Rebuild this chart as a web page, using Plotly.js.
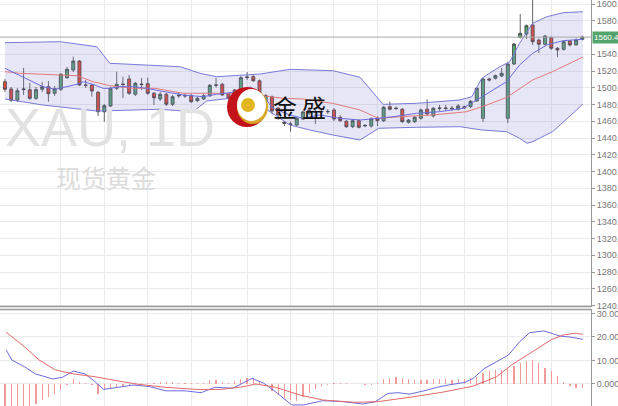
<!DOCTYPE html>
<html><head><meta charset="utf-8">
<script src="https://cdn.plot.ly/plotly-3.0.1.min.js"></script>
<style>html,body{margin:0;padding:0;background:#fff}#c{width:618px;height:406px}</style>
</head><body><div id="c"></div>
<script>
// ---- candle data (daily XAU) ----
const openP = [1507.2,1498.5,1485.0,1497.7,1497.7,1487.4,1498.2,1501.3,1493.4,1498.2,
1512.0,1521.2,1531.9,1503.3,1503.3,1494.6,1471.4,1478.2,1499.3,1504.5,
1510.5,1492.2,1504.5,1504.8,1493.4,1486.6,1492.2,1480.3,1490.3,1490.2,
1490.5,1484.5,1486.6,1490.5,1502.9,1504.1,1492.5,1489.0,1498.2,1512.2,
1513.2,1508.4,1483.0,1489.3,1475.8,1458.8,1456.4,1455.5,1462.7,1469.9,
1471.7,1471.1,1471.2,1473.4,1464.7,1460.0,1453.5,1460.7,1454.3,1454.3,
1463.9,1460.7,1477.4,1475.7,1474.3,1458.8,1459.5,1463.5,1474.3,1466.3,
1475.2,1475.2,1475.7,1474.3,1477.4,1477.4,1484.2,1463.5,1510.5,1511.3,
1514.0,1463.5,1528.4,1560.2,1564.2,1574.9,1557.0,1551.9,1559.8,1547.1,
1545.9,1555.8,1551.1,1557.9];
const closeP = [1498.2,1485.0,1496.5,1498.5,1487.4,1497.7,1501.3,1492.9,1498.9,1516.1,
1522.0,1531.9,1503.3,1502.9,1496.1,1471.4,1478.6,1499.3,1504.1,1503.8,
1493.4,1505.3,1503.8,1493.4,1488.1,1492.2,1480.3,1489.3,1490.9,1490.5,
1483.4,1487.4,1490.5,1502.9,1503.3,1491.4,1487.4,1497.3,1512.0,1512.8,
1508.4,1482.2,1490.8,1472.2,1467.5,1457.6,1456.7,1463.5,1471.1,1473.4,
1471.1,1471.7,1471.7,1462.7,1460.7,1453.5,1460.7,1452.8,1455.0,1463.0,
1460.7,1476.7,1474.3,1475.2,1459.5,1461.5,1464.7,1473.4,1468.7,1475.5,
1475.7,1475.7,1475.0,1478.2,1476.2,1483.8,1499.3,1510.5,1509.3,1514.4,
1517.3,1528.4,1552.2,1565.0,1574.1,1555.0,1551.9,1561.8,1547.1,1545.1,
1555.0,1551.1,1557.0,1560.46];
const highP = [1510.5,1500.9,1499.7,1523.6,1505.7,1500.9,1506.9,1508.1,1502.1,1517.6,
1524.8,1537.1,1533.1,1509.3,1504.5,1496.1,1480.6,1500.9,1519.2,1513.2,
1515.2,1506.9,1511.7,1512.0,1494.9,1494.9,1493.7,1491.4,1493.7,1492.5,
1492.5,1489.0,1492.5,1504.5,1511.7,1505.7,1493.7,1498.5,1514.0,1518.8,
1516.4,1509.9,1492.5,1490.8,1477.0,1460.3,1459.5,1465.1,1472.8,1477.0,
1473.4,1474.6,1474.6,1475.8,1467.5,1461.5,1462.7,1462.1,1456.7,1464.5,
1465.7,1478.2,1483.4,1477.6,1475.8,1462.7,1466.3,1475.2,1486.2,1477.0,
1479.4,1479.4,1478.2,1480.6,1478.8,1485.4,1500.9,1511.7,1512.2,1515.8,
1523.6,1529.6,1553.4,1588.1,1575.5,1611.0,1558.8,1563.0,1561.2,1548.7,
1556.4,1557.0,1558.8,1562.0];
const lowP = [1494.9,1483.0,1483.0,1491.4,1485.4,1485.4,1494.9,1483.4,1490.2,1496.1,
1510.5,1518.8,1502.1,1499.7,1489.3,1466.3,1459.5,1477.0,1497.3,1487.8,
1491.4,1490.2,1497.3,1491.4,1479.4,1484.2,1478.2,1478.2,1487.8,1487.8,
1481.8,1483.0,1485.4,1489.0,1500.3,1490.2,1485.4,1486.6,1496.7,1509.3,
1506.9,1480.6,1481.2,1468.7,1461.5,1454.3,1447.5,1454.3,1461.5,1467.5,
1456.7,1468.7,1468.7,1460.3,1459.1,1452.0,1452.0,1451.4,1453.1,1452.5,
1454.3,1459.1,1472.8,1473.4,1457.9,1457.3,1457.9,1462.1,1466.9,1464.5,
1472.2,1472.2,1472.8,1472.8,1474.6,1475.8,1483.0,1459.1,1507.5,1509.9,
1512.8,1457.9,1527.2,1558.8,1558.2,1551.1,1541.5,1550.5,1545.1,1536.4,
1544.5,1549.3,1550.5,1556.4];
const barIndex = openP.map((_, i) => i);

// ---- Bollinger band lines (x in bar index) ----
const upperX = [0,8.9,14.8,16.9,28.2,31.4,34.1,39.5,41.1,45.9,52.8,57.2,60.2,60.9,66.3,73.3,75.2,76.8,79.7,81.3,82.9,85.0,87.3,89.9,93.1];
const upperY = [1553.8,1555.0,1549.0,1529.2,1525.1,1517.3,1513.2,1515.2,1516.4,1522.0,1520.4,1512.5,1485.4,1480.2,1481.4,1485.4,1489.3,1511.3,1525.1,1531.1,1553.1,1577.0,1584.8,1589.6,1590.8];
const lowerX = [0,6.1,14.8,25.0,30.3,32.5,36.2,39.5,42.7,45.9,49.1,52.8,57.2,57.6,60.2,66.3,73.3,76.8,80.8,82.9,84.1,85.0,88.2,91.5,93.1];
const lowerY = [1486.6,1479.4,1472.2,1474.3,1471.4,1484.2,1487.4,1485.4,1471.4,1455.5,1449.6,1443.6,1437.6,1439.6,1451.6,1452.8,1453.5,1449.6,1447.5,1439.6,1433.7,1435.6,1447.5,1469.5,1480.6];
const midX = [0,2.4,6.1,11.6,14.2,16.9,20.6,24.2,28.7,34.1,39.5,44.8,48.0,52.8,57.2,60.2,63.6,68.9,74.4,77.6,80.8,85.0,88.2,93.1];
const midY = [1519.2,1517.3,1516.1,1514.4,1507.2,1502.5,1499.3,1499.3,1493.4,1493.4,1492.2,1487.4,1486.6,1481.4,1473.4,1463.5,1465.4,1467.5,1471.4,1479.4,1488.4,1509.3,1519.2,1536.7];
const fastX = [0,4.0,6.1,8.1,10.0,11.6,12.6,14.2,15.8,16.9,18.5,20.6,22.9,24.2,28.7,31.9,34.1,37.4,39.5,41.1,43.2,45.9,48.0,50.7,53.9,57.2,60.2,62.5,66.3,70.0,73.8,76.0,78.6,80.8,82.9,85.0,87.3,89.9,93.1];
const fastY = [1523.2,1509.3,1501.3,1498.2,1501.3,1504.1,1507.2,1504.1,1499.3,1499.3,1501.3,1501.3,1499.3,1497.3,1491.4,1489.3,1492.2,1495.3,1500.9,1494.2,1475.5,1467.5,1463.5,1467.5,1463.5,1461.5,1463.5,1465.4,1469.5,1471.4,1475.5,1485.4,1497.3,1507.2,1527.2,1541.1,1551.1,1556.2,1557.9];

// ---- MACD panel ----
const macdX = [0.2,1.1,3.1,4.9,6.1,7.7,9.3,11.0,12.9,14.5,15.9,18.2,20.8,23.3,25.9,29.0,31.6,33.8,36.7,39.8,41.7,43.6,46.2,48.1,51.2,54.4,57.6,59.7,61.7,63.3,65.2,67.5,69.6,71.5,74.1,75.4,77.3,79.2,81.1,82.9,84.5,86.8,88.1,89.4,91.2,93.1];
const macdY = [14.5,10.2,7.4,4.3,3.4,2.1,2.9,5.5,4.3,1.0,-2.3,-1.4,-0.4,-1.1,-2.9,-2.9,-3.7,-1.4,-1.8,2.4,0.3,-3.3,-8.9,-8.9,-7.1,-7.5,-8.5,-7.5,-4.0,-3.7,-4.3,-2.9,-1.4,-0.4,0.7,2.4,6.7,9.5,12.3,18.0,21.8,22.6,21.6,20.4,19.9,19.0];
const signalX = [0.2,3.1,5.5,8.1,11.0,14.5,18.2,21.4,25.8,30.9,34.8,38.5,40.4,43.6,47.5,51.2,56.4,60.1,65.9,70.9,75.4,79.2,81.6,84.9,88.1,90.0,91.9,93.1];
const signalY = [22.0,15.9,10.2,6.0,4.3,3.1,1.3,-0.1,-1.4,-2.3,-2.3,-1.1,0.0,-1.4,-4.7,-6.8,-7.8,-7.5,-5.4,-3.3,-0.9,3.1,8.1,13.7,19.0,20.9,21.6,21.1];
const histY = [-10,-10,-10,-10,-9.6,-8.5,-6.8,-5.4,-4.4,-2.6,
-0.3,2.1,1.0,0.3,-0.3,-4.3,-2.6,-1.5,-1.2,-0.7,
-0.3,0.2,0.5,0.6,0.5,0.8,0.9,0.7,0.6,0.5,
0.3,0.3,0.4,1.6,1.5,0.9,0.6,1.2,2.1,2.4,
2.6,0.8,-0.8,-2.8,-4.5,-5.8,-6.8,-7.2,-5.6,-3.8,
-2.2,-0.8,-0.4,0.4,0.3,0.3,0.2,-0.2,-0.4,-0.3,
0.3,2.0,2.4,3.0,2.5,2.0,1.8,1.8,1.9,2.0,
2.2,2.1,1.9,2.1,2.0,2.4,3.0,4.6,5.6,6.0,
5.8,6.5,7.5,8.8,9.6,10.4,8.8,6.8,5.5,3.2,
0.9,-0.8,-1.5,-1.6];

const lastPrice = 1560.46;
const gridIdx = [9,16,23,30,39,46,53,60,67,74,81,88];
const priceTicks = [1240,1260,1280,1300,1320,1340,1360,1380,1400,1420,1440,1460,1480,1500,1520,1540,1580,1600];
const macdTicks = [0,10,20,30];

const bandLine = '#7a7ad8';
const traces = [
  {type:'scatter', mode:'lines', x:lowerX, y:lowerY, line:{color:bandLine,width:1}, hoverinfo:'skip', xaxis:'x', yaxis:'y'},
  {type:'scatter', mode:'lines', x:upperX, y:upperY, line:{color:bandLine,width:1}, fill:'tonexty', fillcolor:'rgba(130,130,210,0.2)', hoverinfo:'skip', xaxis:'x', yaxis:'y'},
  {type:'scatter', mode:'lines', x:midX, y:midY, line:{color:'#e27a7a',width:1}, hoverinfo:'skip', xaxis:'x', yaxis:'y'},
  {type:'scatter', mode:'lines', x:fastX, y:fastY, line:{color:'#6c6ce0',width:1}, hoverinfo:'skip', xaxis:'x', yaxis:'y'},
  {type:'candlestick', x:barIndex, open:openP, high:highP, low:lowP, close:closeP,
   increasing:{line:{color:'#3d3d3d',width:0.8}, fillcolor:'#57a673'},
   decreasing:{line:{color:'#3d3d3d',width:0.8}, fillcolor:'#e4472f'},
   whiskerwidth:0, xaxis:'x', yaxis:'y'},
  {type:'bar', x:barIndex, y:histY, width:0.2, marker:{color:'#f29a9a', line:{width:0}}, xaxis:'x2', yaxis:'y2', hoverinfo:'skip'},
  {type:'scatter', mode:'lines', x:macdX, y:macdY, line:{color:'#6c6ce0',width:1}, xaxis:'x2', yaxis:'y2', hoverinfo:'skip'},
  {type:'scatter', mode:'lines', x:signalX, y:signalY, line:{color:'#e26a6a',width:1}, xaxis:'x2', yaxis:'y2', hoverinfo:'skip'}
];

const W = 591, H = 406;
const px = v => v / W, py = v => 1 - v / H;
const tickFont = {family:'Liberation Sans, Arial, sans-serif', size:9, color:'#777'};
const layout = {
  width:618, height:406, margin:{l:0,r:27,t:0,b:0,pad:0},
  paper_bgcolor:'#fff', plot_bgcolor:'#fff', showlegend:false, bargap:0,
  xaxis:{domain:[0,1], range:[-0.8,94.4], tickvals:gridIdx, showticklabels:false, ticks:'', showgrid:true, gridcolor:'#ebebeb', zeroline:false, rangeslider:{visible:false}, fixedrange:true, anchor:'y'},
  yaxis:{domain:[0.2438,1], range:[1238.2,1604.78], side:'right', anchor:'x', tickvals:priceTicks, tickformat:'.2f', ticks:'outside', ticklen:3, tickcolor:'#999', showline:true, linecolor:'#999', linewidth:1, showgrid:true, gridcolor:'#ebebeb', zeroline:false, tickfont:tickFont, ticklabeloverflow:'allow'},
  xaxis2:{domain:[0,1], range:[-0.8,94.4], tickvals:gridIdx, showticklabels:false, ticks:'', showgrid:true, gridcolor:'#ebebeb', zeroline:false, anchor:'y2'},
  yaxis2:{domain:[0,0.2389], range:[-9.36,31.9], side:'right', anchor:'x2', tickvals:macdTicks, tickformat:'.4f', ticks:'outside', ticklen:3, tickcolor:'#999', showline:true, linecolor:'#999', linewidth:1, showgrid:true, gridcolor:'#ebebeb', zeroline:false, tickfont:tickFont, ticklabeloverflow:'allow'},
  shapes:[
    {type:'line', xref:'paper', yref:'y', x0:0, x1:1, y0:lastPrice, y1:lastPrice, line:{color:'#a8a8a8', width:1}},
    {type:'line', xref:'paper', yref:'paper', x0:0, x1:1, y0:py(306.5), y1:py(306.5), line:{color:'#999', width:1.5}},
    {type:'line', xref:'paper', yref:'paper', x0:0, x1:1, y0:py(309.5), y1:py(309.5), line:{color:'#999', width:1.5}},
    // logo
    {type:'circle', xref:'paper', yref:'paper', x0:px(227), x1:px(267), y0:py(127), y1:py(87), fillcolor:'#c3121a', line:{width:0}},
    {type:'circle', xref:'paper', yref:'paper', x0:px(237), x1:px(268), y0:py(124), y1:py(90), fillcolor:'#d8a62a', line:{width:0}},
    {type:'circle', xref:'paper', yref:'paper', x0:px(237), x1:px(266), y0:py(121), y1:py(89), fillcolor:'#ffffff', line:{width:0}},
    {type:'circle', xref:'paper', yref:'paper', x0:px(241), x1:px(255), y0:py(112), y1:py(98), fillcolor:'#e3b624', line:{width:0}}
  ],
  annotations:[
    {xref:'paper', yref:'paper', x:px(3), y:py(127), xanchor:'left', yanchor:'middle', text:'XAU, 1D', showarrow:false, font:{family:'Liberation Sans, Arial, sans-serif', size:54, color:'#e2e2e2'}},
    {xref:'paper', yref:'paper', x:px(54), y:py(177), xanchor:'left', yanchor:'middle', text:'现货黄金', showarrow:false, font:{family:'Noto Sans CJK SC', size:25, color:'#dcdcdc'}},
    {xref:'paper', yref:'paper', x:px(271), y:py(106), xanchor:'left', yanchor:'middle', text:'金', showarrow:false, font:{family:'Noto Sans CJK SC', size:24, color:'#111'}},
    {xref:'paper', yref:'paper', x:px(300), y:py(106), xanchor:'left', yanchor:'middle', text:'盛', showarrow:false, font:{family:'Noto Sans CJK SC', size:24, color:'#111'}},
    {xref:'paper', yref:'paper', x:1, xanchor:'left', xshift:3, y:py(409), yanchor:'middle', text:'-10.0000', showarrow:false, font:tickFont},
    {xref:'paper', yref:'y', x:1, xanchor:'left', xshift:1, y:lastPrice, yanchor:'middle', text:'1560.46', showarrow:false, bgcolor:'#52a36c', borderpad:1, font:{family:'Liberation Sans, Arial, sans-serif', size:8, color:'#fff'}}
  ]
};
Plotly.newPlot('c', traces, layout, {staticPlot:true, displayModeBar:false});
</script>
</body></html>
